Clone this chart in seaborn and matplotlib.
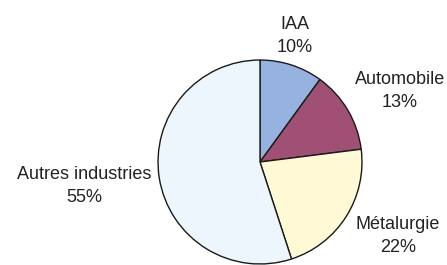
import numpy as np
import matplotlib
matplotlib.use("Agg")
import matplotlib.pyplot as plt
import seaborn as sns

# Données
categories = ["IAA", "Automobile", "Métalurgie", "Autres industries"]
parts = [10, 13, 22, 55]
colors = ["#95B3DE", "#A05075", "#FFF9D6", "#EEF6FD"]

sns.set_theme(style="white")
plt.rcParams['font.family'] = ['Liberation Sans', 'DejaVu Sans']

fig = plt.figure(figsize=(4.47, 2.65), dpi=100)
W, H = 447, 265
cx, cy, r = 260, 162, 103
ax = fig.add_axes([(cx - r) / W, (H - cy - r) / H, 2 * r / W, 2 * r / H])

palette = sns.color_palette(colors)
wedges, _ = ax.pie(parts, colors=palette, startangle=90, counterclock=False,
                   radius=1, wedgeprops=dict(edgecolor="#1a1a1a", linewidth=1.0))
ax.set_xlim(-1.01, 1.01)
ax.set_ylim(-1.01, 1.01)
ax.set_aspect("equal")
ax.axis("off")

# Position des étiquettes (pixels)
label_pos = [(295, 36), (400, 91), (398, 236), (84, 186)]
for name, val, (px, py) in zip(categories, parts, label_pos):
    fig.text(px / W, 1 - py / H, f"{name}\n{val}%", ha="center", va="center",
             fontsize=13, color="#222222", linespacing=1.4)

fig.savefig("out.png", dpi=100)
